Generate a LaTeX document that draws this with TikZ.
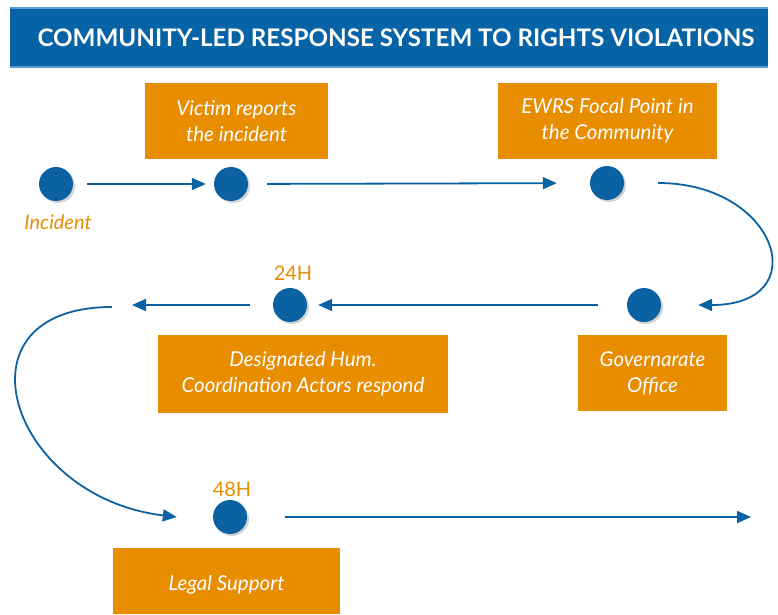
\documentclass[tikz,border=0pt]{standalone}
\usepackage{fontspec}
\setmainfont{Lato}
\usepackage{tikz}
\usetikzlibrary{arrows.meta,shadows}

\definecolor{bannerblue}{HTML}{0563A6}
\definecolor{rimblue}{HTML}{5B9BD5}
\definecolor{dotblue}{HTML}{0B62A3}
\definecolor{stepamber}{HTML}{E88C00}

\begin{document}
\begin{tikzpicture}[x=1pt,y=-1pt,
  dot/.style={circle,fill=dotblue,minimum size=34pt,inner sep=0pt,
    drop shadow={opacity=0.35,shadow xshift=2pt,shadow yshift=-2pt}},
  stepbox/.style={fill=stepamber,text=white,align=center,inner sep=0pt,
    font=\fontsize{20.5}{26}\selectfont\itshape},
  tag/.style={text=stepamber,font=\fontsize{20}{24}\selectfont},
  flow/.style={draw=dotblue,line width=1.8pt,-{Triangle[length=14pt,width=12pt]}}]
\useasboundingbox (0,0) rectangle (778,614);

% title
\node[fill=bannerblue,minimum width=758pt,minimum height=59pt,inner sep=0pt] (banner) at (389,37.5) {};
\draw[rimblue,line width=2pt] (banner.north west) -- (banner.north east)
  (banner.south west) -- (banner.south east);
\node[text=white,font=\fontsize{24.2}{29}\selectfont\bfseries] (title) at (396,38)
  {COMMUNITY-LED RESPONSE SYSTEM TO RIGHTS VIOLATIONS};

% boxes
\node[stepbox,minimum width=183pt,minimum height=76pt] (victimbox) at (236.5,121) {Victim reports\\the incident};
\node[stepbox,minimum width=219pt,minimum height=76pt] (focalbox) at (607.5,121) {EWRS Focal Point in\\the Community};
\node[stepbox,minimum width=290pt,minimum height=78pt] (actorsbox) at (303,374) {Designated Hum.\\Coordination Actors respond};
\node[stepbox,minimum width=149pt,minimum height=76pt] (officebox) at (652.5,373) {Governarate\\Office};
\node[stepbox,minimum width=227pt,minimum height=66pt] (legalbox) at (226.5,581) {};
\node[stepbox,fill=none] (legaltext) at (226.5,585) {Legal Support};

% dots
\node[dot] (incident) at (56,184) {};
\node[dot] (victim) at (231,184) {};
\node[dot] (focal) at (607,183) {};
\node[dot] (office) at (644,305) {};
\node[dot] (actors) at (290,305) {};
\node[dot] (legal) at (230,517) {};

% labels
\node[tag,font=\fontsize{20}{24}\selectfont\itshape] (incidentlabel) at (58,222) {Incident};
\node[tag] (daylabel) at (293,273) {24H};
\node[tag] (twodaylabel) at (232,489) {48H};

\coordinate (relay) at (132,305);
\coordinate (handoff) at (112,307);
\coordinate (onward) at (751,517);

% connectors
\draw[flow,shorten <=14pt,shorten >=8pt] (incident) -- (victim);
\draw[flow,shorten <=19pt,shorten >=33pt] (victim) -- (focal);
\draw[flow] ([xshift=34pt]focal.east) .. controls +(120,0) and +(118,0) .. ([xshift=37pt]office.east);
\draw[flow,shorten <=29pt,shorten >=11pt] (office) -- (actors);
\draw[flow,shorten <=23pt] (actors) -- (relay);
\draw[flow] (handoff) .. controls +(-163,0) and +(-168,-20) .. ([xshift=-36pt]legal.west);
\draw[flow,shorten <=38pt] (legal) -- (onward);
\end{tikzpicture}
\end{document}
